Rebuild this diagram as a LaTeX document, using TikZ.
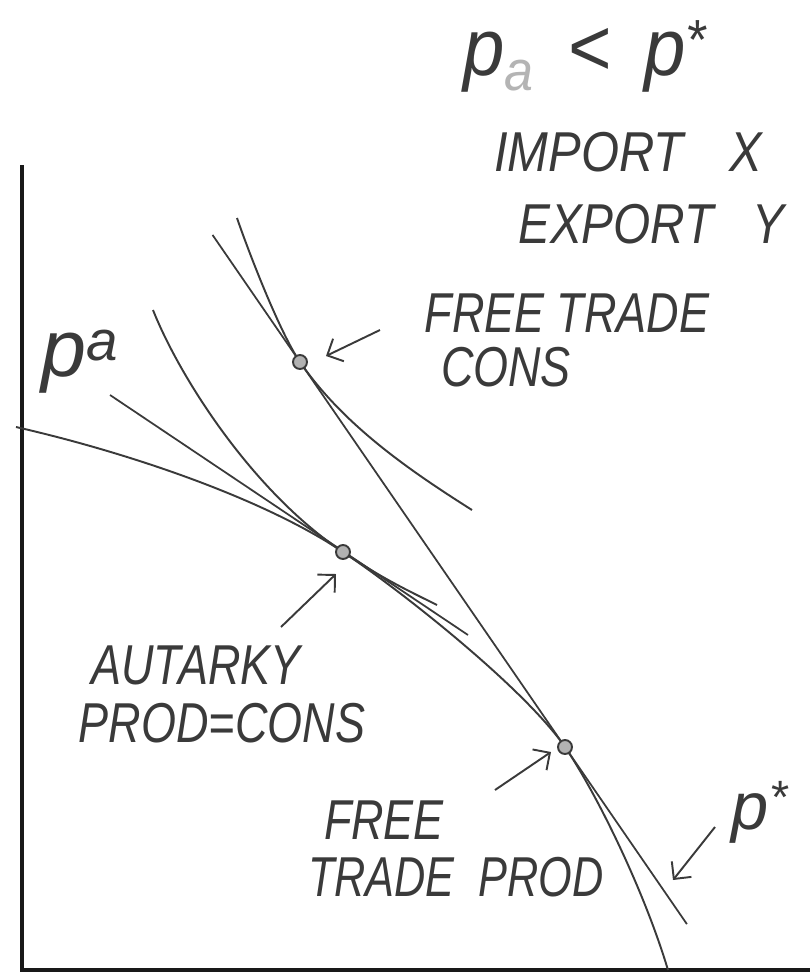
\documentclass[tikz,border=0pt]{standalone}
\usepackage{fontspec}
\setmainfont{Liberation Sans}
\usepackage{graphicx}
\usetikzlibrary{arrows.meta, calc}
\definecolor{pencil}{HTML}{3A3A3A}
\definecolor{rubbed}{HTML}{B4B4B4}
\newcommand{\hand}[2][0.8]{\scalebox{#1}[1]{#2}}
\tikzset{
  axisline/.style={draw=black!90, line width=2.6pt},
  curve/.style={draw=pencil, line width=1.1pt},
  priceline/.style={draw=pencil, line width=1.0pt},
  tangpt/.style={circle, draw=pencil, fill=black!30, line width=1.1pt, inner sep=0pt, minimum size=0.28cm},
  lbl/.style={font=\fontsize{32}{38}\selectfont\itshape, text=pencil, inner sep=0pt},
  plbl/.style={font=\fontsize{46}{50}\selectfont\itshape, text=pencil, inner sep=0pt},
  handarrow/.style={draw=pencil, line width=1.1pt, -{Straight Barb[length=2.5mm, width=5mm]}}
}

\begin{document}
\begin{tikzpicture}[x=0.02cm, y=-0.02cm]
\useasboundingbox (0,0) rectangle (810,975);
% axes
\coordinate (ytop) at (22,165);
\coordinate (origin) at (22,970);
\coordinate (xend) at (810,970);
\draw[axisline] (ytop) -- (origin) -- (xend);
% points of tangency
\coordinate (aut) at (343,552);
\coordinate (ftc) at (300,362);
\coordinate (ftp) at (565,747);
% production frontier
\draw[curve] (16,427) .. controls (126,452) and (263,498) .. (aut)
  .. controls (403,592) and (525,689) .. (ftp)
  .. controls (595,791) and (643,887) .. (668,970);
% indifference curves
\draw[curve] (153,310) .. controls (180,378) and (253,492) .. (aut)
  .. controls (383,579) and (407,590) .. (437,605);
\draw[curve] (237,218) .. controls (249,253) and (280,333) .. (ftc)
  .. controls (344,426) and (412,472) .. (472,510);
% price lines
\coordinate (pa-start) at (110,395);
\coordinate (pa-end) at (468,635);
\draw[priceline] (pa-start) -- (pa-end);
\coordinate (ps-start) at ($(ftc)!-0.33!(ftp)$);
\coordinate (ps-end) at ($(ftc)!1.46!(ftp)$);
\draw[priceline] (ps-start) -- (ps-end);
% dots
\node[tangpt] (autdot) at (aut) {};
\node[tangpt] (ftcdot) at (ftc) {};
\node[tangpt] (ftpdot) at (ftp) {};
% labels
\node[plbl] (pcompare) at (585,56) {\hand[0.92]{p\textsubscript{\color{rubbed}a}\, \textless{}\, p\textsuperscript{*}}};
\node[lbl] (imp) at (628,152) {\hand[0.87]{IMPORT\hspace{1.05cm}X}};
\node[lbl] (exp) at (651,224) {\hand[0.85]{EXPORT\hspace{0.9cm}Y}};
\node[plbl] (palbl) at (80,362) {p\textsuperscript{a}};
\node[lbl] (ftcons) at (567,313) {\hand{FREE TRADE}};
\node[lbl] (ftcons2) at (506,367) {\hand{CONS}};
\node[lbl] (autlbl) at (196,665) {\hand{AUTARKY}};
\node[lbl] (autlbl2) at (222,723) {\hand{PROD=CONS}};
\node[lbl] (ftprod) at (384,820) {\hand{FREE}};
\node[lbl] (ftprod2) at (456,877) {\hand[0.77]{TRADE\ \ PROD}};
\node[plbl, font=\fontsize{38}{42}\selectfont\itshape] (pstar) at (760,812) {p\textsuperscript{*}};
% arrows
\coordinate (a1-tail) at (380,330);
\coordinate (a1-tip) at (326,356);
\coordinate (a2-tail) at (281,627);
\coordinate (a2-tip) at (336,574);
\coordinate (a3-tail) at (495,790);
\coordinate (a3-tip) at (551,752);
\coordinate (a4-tail) at (715,827);
\coordinate (a4-tip) at (673,880);
\draw[handarrow] (a1-tail) -- (a1-tip);
\draw[handarrow] (a2-tail) -- (a2-tip);
\draw[handarrow] (a3-tail) -- (a3-tip);
\draw[handarrow] (a4-tail) -- (a4-tip);
\end{tikzpicture}
\end{document}
